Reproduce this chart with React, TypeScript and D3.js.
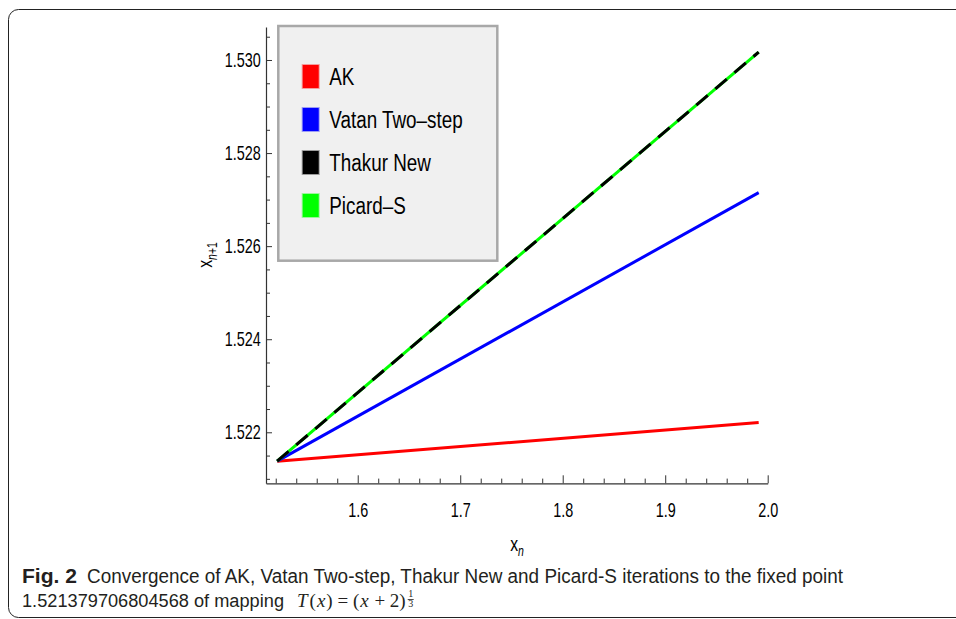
import React, { useEffect, useRef } from 'react';
import * as d3 from 'd3';

// data (x_n -> x_{n+1}), lines start at the fixed point
const seriesNames = ['AK', 'Vatan Two\u2013step', 'Thakur New', 'Picard\u2013S'];
const seriesColors = ['#ff0000', '#0000ff', '#000000', '#00ff00'];
const xnValues = [1.52138, 1.9912];
const akValues = [1.52138, 1.52221];
const vatanValues = [1.52138, 1.52715];
const thakurValues = [1.52138, 1.53017];
const picardValues = [1.52138, 1.53017];

const xTicks = [1.6, 1.7, 1.8, 1.9, 2.0];
const yTicks = [1.522, 1.524, 1.526, 1.528, 1.53];
const xPlotRange = [1.5105, 2.0];
const yPlotRange = [1.520904, 1.530709];

const sans = 'Liberation Sans, Arial, sans-serif';

export default function App() {
  const svgRef = useRef<SVGSVGElement>(null);

  useEffect(() => {
    const svg = d3.select(svgRef.current);
    svg.selectAll('*').remove();

    const x = d3.scaleLinear().domain(xPlotRange).range([266, 767.7]);
    const y = d3.scaleLinear().domain(yPlotRange).range([483.3, 27]);

    // page frame (rounded, runs off the right edge)
    svg.append('rect')
      .attr('x', 8.5).attr('y', 9.5)
      .attr('width', 1000).attr('height', 608)
      .attr('rx', 10)
      .attr('fill', 'none')
      .attr('stroke', '#222');

    // minor ticks, pointing inward like mathematica does
    const xMinor = d3.range(1.52, 2.001, 0.02).filter(v => !xTicks.some(t => Math.abs(t - v) < 1e-6));
    const yMinor = d3.range(1.521, 1.5306, 0.0005).filter(v => !yTicks.some(t => Math.abs(t - v) < 1e-7));

    svg.append('g')
      .attr('transform', 'translate(0,483.3)')
      .call(d3.axisBottom(x).tickValues(xMinor).tickSizeInner(-4.7).tickSizeOuter(0).tickFormat(() => ''))
      .call(g => g.select('.domain').remove())
      .selectAll('line').attr('stroke', '#333');

    svg.append('g')
      .attr('transform', 'translate(266,0)')
      .call(d3.axisLeft(y).tickValues(yMinor).tickSizeInner(-4).tickSizeOuter(0).tickFormat(() => ''))
      .call(g => g.select('.domain').remove())
      .selectAll('line').attr('stroke', '#333');

    const gx = svg.append('g')
      .attr('transform', 'translate(0,483.3)')
      .call(d3.axisBottom(x).tickValues(xTicks).tickSizeInner(-8).tickSizeOuter(0).tickPadding(20).tickFormat(d3.format('.1f')))
      .attr('font-family', sans)   // after .call, axis sets its own font otherwise
      .attr('font-size', 20);
    gx.select('.domain').attr('stroke', '#333').attr('stroke-width', 1.2);
    gx.selectAll('line').attr('stroke', '#333');
    gx.selectAll('text').attr('fill', '#000').attr('transform', 'scale(0.72,1)');

    const gy = svg.append('g')
      .attr('transform', 'translate(266,0)')
      .call(d3.axisLeft(y).tickValues(yTicks).tickSizeInner(-6).tickSizeOuter(0).tickFormat(d3.format('.3f')))
      .attr('font-family', sans)
      .attr('font-size', 20);
    gy.select('.domain').attr('stroke', '#333').attr('stroke-width', 1.2);
    gy.selectAll('line').attr('stroke', '#333');
    gy.selectAll('text').attr('fill', '#000').attr('x', -7.4).attr('transform', 'scale(0.72,1)');

    // axis labels
    const xl = svg.append('text')
      .attr('transform', 'translate(517,551) scale(0.75,1)')
      .attr('text-anchor', 'middle')
      .attr('font-family', sans)
      .attr('font-size', 21);
    xl.append('tspan').text('x');
    xl.append('tspan').attr('dy', 5).attr('font-size', 14).attr('font-style', 'italic').text('n');

    const yl = svg.append('text')
      .attr('transform', 'translate(211.7,255) rotate(-90) scale(0.75,1)')
      .attr('text-anchor', 'middle')
      .attr('font-family', sans)
      .attr('font-size', 21);
    yl.append('tspan').text('x');
    yl.append('tspan').attr('dy', 5).attr('font-size', 14).attr('font-style', 'italic').text('n');
    yl.append('tspan').attr('font-size', 14).text('+1');

    // the lines, green under the dashed black so the gaps show green
    const line = d3.line<number>()
      .x((d, i) => x(xnValues[i]))
      .y(d => y(d));

    const drawOrder = [
      { values: akValues, color: seriesColors[0], dash: null },
      { values: vatanValues, color: seriesColors[1], dash: null },
      { values: picardValues, color: seriesColors[3], dash: null },
      { values: thakurValues, color: seriesColors[2], dash: '15,10' },
    ];
    drawOrder.forEach(s => {
      svg.append('path')
        .attr('d', line(s.values))
        .attr('fill', 'none')
        .attr('stroke', s.color)
        .attr('stroke-width', 3)
        .attr('stroke-dasharray', s.dash);
    });

    // legend box
    const lg = svg.append('g');
    lg.append('rect')
      .attr('x', 278.3).attr('y', 26)
      .attr('width', 219).attr('height', 234.7)
      .attr('fill', '#f0f0f0')
      .attr('stroke', '#a8a8a8')
      .attr('stroke-width', 2.5);
    const rowY = d3.scalePoint().domain(seriesNames).range([76.5, 205.5]);
    seriesNames.forEach((name, i) => {
      const cy = rowY(name);
      lg.append('rect')
        .attr('x', 302.7).attr('y', cy - 11.5)
        .attr('width', 16).attr('height', 23)
        .attr('fill', seriesColors[i])
        .attr('stroke', seriesColors[i])
        .attr('stroke-opacity', 0.35)
        .attr('stroke-width', 2);
      lg.append('text')
        .attr('transform', `translate(329.3,${cy}) scale(0.82,1)`)
        .attr('dy', '0.35em')
        .attr('font-family', sans)
        .attr('font-size', 23)
        .attr('fill', '#000')
        .text(name);
    });

    // caption under the figure
    const cap = svg.append('g').attr('fill', '#231f20').attr('font-family', sans).attr('font-size', 20);
    cap.append('text')
      .attr('x', 22).attr('y', 583)
      .attr('font-weight', 'bold')
      .attr('textLength', 55).attr('lengthAdjust', 'spacingAndGlyphs')
      .text('Fig. 2');
    cap.append('text')
      .attr('x', 87).attr('y', 583)
      .attr('textLength', 756).attr('lengthAdjust', 'spacingAndGlyphs')
      .text('Convergence of AK, Vatan Two-step, Thakur New and Picard-S iterations to the fixed point');
    cap.append('text')
      .attr('x', 22).attr('y', 607)
      .attr('font-size', 18)
      .attr('textLength', 262).attr('lengthAdjust', 'spacingAndGlyphs')
      .text('1.521379706804568 of mapping');

    const math = cap.append('text')
      .attr('x', 297).attr('y', 607)
      .attr('font-family', 'Liberation Serif, Times New Roman, serif')
      .attr('font-size', 19);
    math.append('tspan').attr('font-style', 'italic').text('T');
    math.append('tspan').attr('dx', 2).text('(');
    math.append('tspan').attr('dx', 1).attr('font-style', 'italic').text('x');
    math.append('tspan').attr('dx', 1).text(') = (');
    math.append('tspan').attr('dx', 1).attr('font-style', 'italic').text('x');
    math.append('tspan').attr('dx', 1).text(' + 2)');

    // 1/3 exponent placed after the measured math text
    const mb = (math.node() as SVGTextElement).getBBox();
    const fx = mb.x + mb.width + 5;
    cap.append('text').attr('x', fx).attr('y', 597).attr('text-anchor', 'middle')
      .attr('font-family', 'Liberation Serif, serif').attr('font-size', 10).text('1');
    cap.append('line').attr('x1', fx - 3).attr('x2', fx + 3).attr('y1', 599.5).attr('y2', 599.5)
      .attr('stroke', '#231f20').attr('stroke-width', 0.8);
    cap.append('text').attr('x', fx).attr('y', 607).attr('text-anchor', 'middle')
      .attr('font-family', 'Liberation Serif, serif').attr('font-size', 10).text('3');
  }, []);

  return (
    <svg
      ref={svgRef}
      width={956}
      height={619}
      style={{ position: 'absolute', left: 0, top: 0, background: '#fff' }}
    ></svg>
  );
}
